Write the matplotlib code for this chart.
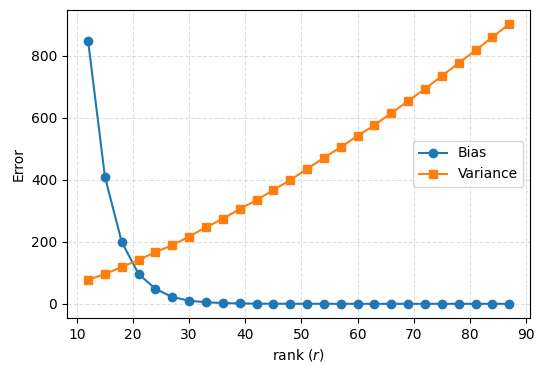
import matplotlib
matplotlib.use("Agg")
import matplotlib.pyplot as plt

# rank values
ranks = list(range(12, 88, 3))

# error components
bias = [848, 409, 199, 96, 48, 22, 10, 5, 2.5, 1.2, 0.6, 0.3, 0.15, 0.1, 0.05,
        0.02, 0.01, 0, 0, 0, 0, 0, 0, 0, 0, 0]
variance = [77, 96, 119, 141, 167, 189, 217, 247, 274, 306, 334, 367, 399,
            435, 471, 505, 542, 576, 615, 654, 693, 735, 776, 817, 860, 902]

fig, ax = plt.subplots(figsize=(5.45, 3.73), dpi=100)
ax.plot(ranks, bias, marker="o", label="Bias")
ax.plot(ranks, variance, marker="s", label="Variance")
ax.set_xlabel("rank ($r$)")
ax.set_ylabel("Error")
ax.grid(True, linestyle="--", alpha=0.4)
ax.legend(loc="center right")
fig.subplots_adjust(left=0.123, right=0.973, top=0.973, bottom=0.148)
fig.savefig("out.png", dpi=100)
